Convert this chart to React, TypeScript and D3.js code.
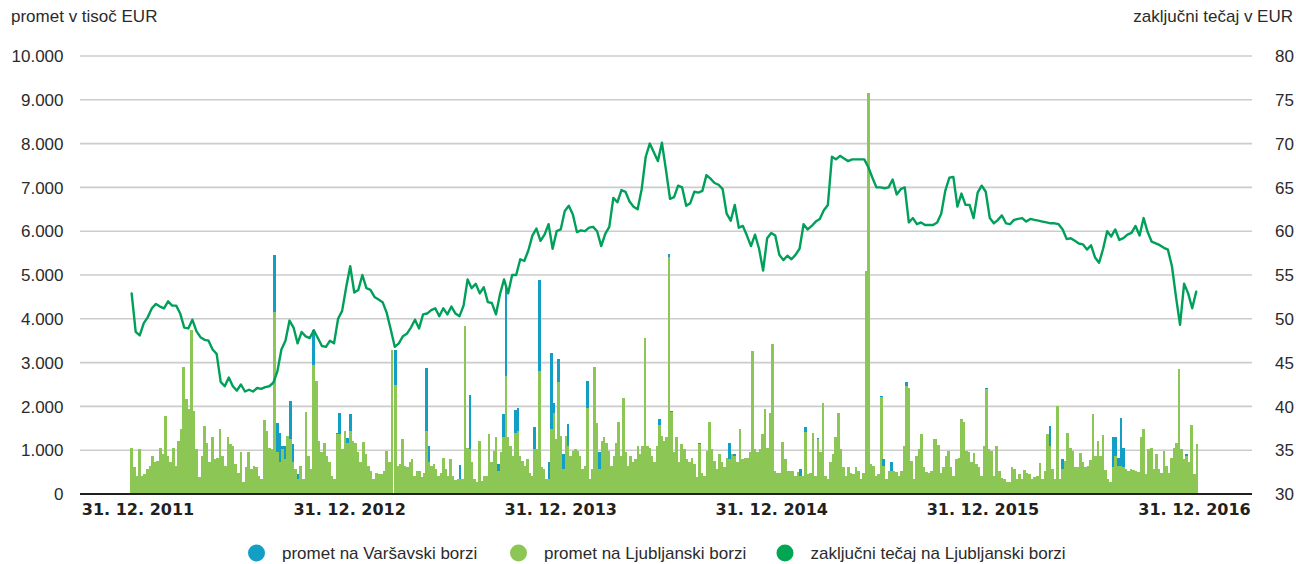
import React from 'react';
import * as d3 from 'd3';

// ---------- DATA ----------
const yearTicks = ['2011-12-31', '2012-12-31', '2013-12-31', '2014-12-31', '2015-12-31', '2016-12-31'];
const turnoverTicks = [0, 1000, 2000, 3000, 4000, 5000, 6000, 7000, 8000, 9000, 10000];
const priceTicks = [30, 35, 40, 45, 50, 55, 60, 65, 70, 75, 80];

const seriesNames = ['promet na Varšavski borzi', 'promet na Ljubljanski borzi', 'zaključni tečaj na Ljubljanski borzi'];

// weekly closing price (EUR) on the Ljubljana exchange
const priceStart = '2011-12-20';
const priceStepDays = 7;
const closePrice = [
  52.9, 48.5, 48.1, 49.5, 50.2, 51.2, 51.7, 51.4, 51.2, 52.0,
  51.5, 51.5, 50.6, 49.0, 48.9, 49.9, 48.6, 47.9, 47.6, 47.5,
  46.5, 46.0, 42.8, 42.3, 43.3, 42.3, 41.8, 42.5, 41.7, 41.9,
  41.7, 42.1, 42.0, 42.2, 42.3, 42.7, 44.0, 46.5, 47.5, 49.8,
  49.0, 47.2, 48.5, 48.0, 47.8, 48.7, 47.8, 46.9, 46.8, 47.5,
  47.2, 50.0, 50.9, 53.6, 56.0, 53.0, 53.3, 55.0, 53.5, 53.3,
  52.5, 52.2, 51.9, 50.7, 48.8, 46.8, 47.2, 48.0, 48.3, 49.0,
  49.9, 48.9, 50.5, 50.6, 51.0, 51.2, 50.3, 51.2, 50.5,
  51.4, 50.6, 50.3, 51.5, 54.5, 53.5, 54.0, 52.9, 53.6, 51.9,
  51.8, 50.5, 52.8, 54.5, 52.9, 55.0, 55.0, 56.8, 56.6, 57.8,
  59.5, 60.3, 58.9, 59.6, 60.8, 58.0, 60.0, 60.2, 62.3, 62.9,
  61.9, 59.9, 60.1, 60.0, 60.4, 60.5, 60.0, 58.3, 59.7, 60.5,
  63.8, 63.3, 64.7, 64.5, 63.4, 62.8, 62.5, 64.8, 68.5, 70.0,
  69.0, 68.0, 70.1, 67.0, 63.7, 63.9, 65.2, 65.0, 62.9, 63.2,
  64.5, 64.4, 64.6, 66.4, 66.0, 65.5, 65.3, 64.8, 62.0, 61.2,
  63.0, 60.4, 60.6, 59.5, 58.3, 59.6, 58.0, 55.5, 59.2,
  59.8, 59.5, 57.3, 56.7, 57.2, 56.8, 57.3, 58.0, 60.8, 60.2,
  60.6, 61.1, 61.4, 62.4, 63.0, 68.5, 68.2, 68.6, 68.3, 68.0,
  68.2, 68.2, 68.2, 68.2, 67.3, 66.1, 65.0, 65.0, 64.9, 65.0,
  65.9, 64.2, 64.8, 65.0, 61.0, 61.5, 60.8, 61.0, 60.7, 60.7,
  60.7, 61.0, 62.0, 64.6, 66.1, 66.2, 62.8, 64.3, 63.0, 63.0,
  61.5, 64.4, 65.2, 64.5, 61.5, 60.9, 61.3, 61.8, 60.9, 60.8,
  61.3, 61.4, 61.5, 61.1, 61.4, 61.3, 61.2, 61.1, 61.0, 60.9,
  60.9, 60.8, 60.2, 59.1, 59.2, 58.9, 58.6, 58.5, 57.9, 58.4,
  57.0, 56.4, 58.0, 60.0, 59.4, 60.2, 59.0, 59.2, 59.6, 59.8,
  60.6, 59.5, 61.5, 59.9, 58.8, 58.6, 58.4, 58.1, 57.9, 56.0,
  52.5, 49.3, 54.0, 52.9, 51.2, 53.1,
];

// turnover in thousand EUR: number = Ljubljana only, [Ljubljana, Warsaw]
type T = number | [number, number];
const turnoverPeriods: [string, string][] = [
  ['2011-12-20', '2013-03-14'],
  ['2013-03-20', '2014-06-28'],
  ['2014-07-02', '2015-10-08'],
  ['2015-10-11', '2017-01-04'],
];
const turnoverP1: T[] = [
  1060, 610, 420, 1020, 420, 450, 570, 640, 870, 720,
  760, 1060, 910, 1780, 870, 720, 1050, 640, 1210, 1480,
  2910, 2160, 1930, 3750, 1890, 1020, 380, 870, 1550, 1170,
  720, 1290, 800, 830, 1480, 870, 640, 1290, 1140, 1100,
  680, 490, 950, 270, 610, 950, 570, 640, 610, 420,
  340, 1700, 1440, 1060, 1020, [4160, 1290], [950, 680], [720, 680], [1020, 80], [800, 300],
  1330, [1250, 870], [720, 420], 570, [340, 110], 640, 340, 1880, 870, 570,
  [2950, 800], 2570, 1210, 950, 1170, 870, 720, 420, 340, [1360, 40],
  [1360, 490], 1020, 1440, [1170, 110], [1440, 380], 1210, 1170, 950, 720, 1190,
  910, 640, 530, 340, 490, 450, 450, 530, 980, 720,
  3290,
];
const turnoverP2: T[] = [
  [2500, 790], 640, 680, 1260, 640, 610, 720, 810, 420, 530,
  530, 380, 490, [1440, 1440], [720, 380], 640, 680, 570, 420, 490,
  830, 570, 420, 800, 420, 320, 340, [340, 320], 340, 3840,
  1060, [1020, 1240], 720, 340, 270, 1210, 300, 420, 420, 1360,
  720, 980, 1290, [530, 150], 950, [1290, 540], [2690, 2040], 1290, 1100, 870,
  [1400, 510], [1440, 530], 870, 760, 640, 800, 490, 420, [1020, 510], 1020,
  [2800, 2080], 610, 570, 340, [340, 380], [1480, 1750], [1860, 210], 1250, [2550, 540], 1330,
  [570, 340], 1330, [1100, 490], 870, 980, 1020, 980, 870, 570, 640,
  [1970, 600], 340, 570, 2890, 1630, [570, 380], 1210, 1290, 1170, 980,
  640, 870, 1170, 1640, 870, 2200, 950, 640, 870, 720,
  800, 1100, 910, 1100, 3570, 1100, 1060, 870, 720, 1100,
  [1570, 140], 1330, 1210,
];
const turnoverP3: T[] = [
  1290, [5410, 80], [1880, 10], 950, 1290, 720, 1140, 1020, 800, 720,
  830, 680, 380, [1140, 20], 490, 420, 980, 1650, 1020, 760,
  570, 910, 720, 610, 830, [800, 370], 910, [870, 40], 720, 1480,
  800, 830, 830, 950, 3270, 1020, 950, 1020, 1360, 1950,
  1060, 1860, 3420, 530, 490, 490, 1190, 800, 530, 530,
  530, 420, 510, [420, 150], 420, [1420, 110], 450, 490, 1400, 420,
  [1250, 20], 950, 2080, 420, 340, 720, 910, 1290, 1860, 1020,
  610, 420, 610, 490, 450, 610, 530, 340, 490, 5090,
  9160, 680, 640, 420, 450, [2210, 20], [640, 150], 340, 530, [530, 200],
  530, 510, 420, 530, 1100, [2460, 90], 2420, 760, 340, 870,
  1020, 1380, 610, 500, 490, 530, 1260,
];
const turnoverP4: T[] = [
  1260, 1110, 490, 610, 870, 980, 610, 420, 800, 830,
  1720, 1640, 980, 950, 720, 930, 680, 610, 420, 1100,
  [2390, 30], 1020, 980, 420, 1100, 530, 360, 340, 270, 270,
  610, 570, 340, 450, 340, 550, 490, 450, 340, 380,
  420, 700, 340, 530, 1360, [1100, 450], 570, 340, 2020, 340,
  [570, 240], 760, 1400, 1040, 980, 610, 610, 930, 720, 610,
  640, 780, 1820, 870, 1200, 860, 1350, 550, 340, 270,
  [610, 680], [870, 420], [640, 190], [640, 1100], [610, 430], 570, 530, 570, 550, 530,
  510, 1310, 1480, 450, 1020, 1040, 570, 910, 570, 490,
  980, 640, 490, 830, 1060, 1170, 2860, 1020, 800, [870, 40],
  720, 1580, 450, 1140,
];
const turnoverSegments = [turnoverP1, turnoverP2, turnoverP3, turnoverP4];

// ---------- CHART ----------
const W = 1296;
const H = 564;
const C = {
  blue: '#139fc5',
  green: '#8cc654',
  line: '#00a05a',
  lineLegend: '#00a651',
  grid: '#cccccc',
  text: '#2b2b2b',
  axis: '#231f20',
};
const FONT = '"Liberation Sans", Arial, Helvetica, sans-serif';

const parse = d3.utcParse('%Y-%m-%d');
const DAY = 86400000;

export default function App() {
  const x = d3.scaleUtc()
    .domain([parse(yearTicks[0])!, parse(yearTicks[yearTicks.length - 1])!])
    .range([138, 1194.5]);
  const yL = d3.scaleLinear().domain([0, 10000]).range([494, 56]);
  const yR = d3.scaleLinear().domain([30, 80]).range([494, 56]);
  const gridX0 = 80;
  const gridX1 = 1252;

  const loc = d3.formatLocale({ decimal: ',', thousands: '.', grouping: [3], currency: ['', ' €'] });
  const fmtL = loc.format(',.0f');
  const fmtX = d3.utcFormat('%d. %m. %Y');

  const bars: { x: number; w: number; lj: number; wa: number }[] = [];
  turnoverSegments.forEach((seg, s) => {
    const t0 = parse(turnoverPeriods[s][0])!.getTime();
    const t1 = parse(turnoverPeriods[s][1])!.getTime();
    const n = seg.length;
    const stepPx = (x(new Date(t1)) - x(new Date(t0))) / (n - 1);
    seg.forEach((v, i) => {
      const t = new Date(t0 + (i * (t1 - t0)) / (n - 1));
      const lj = Array.isArray(v) ? v[0] : v;
      const wa = Array.isArray(v) ? v[1] : 0;
      bars.push({ x: x(t), w: stepPx * 1.02, lj, wa });
    });
  });

  const p0 = parse(priceStart)!.getTime();
  const linePts: [number, number][] = closePrice.map((v, i) => [x(new Date(p0 + i * priceStepDays * DAY)), yR(v)]);
  const linePath = d3.line().curve(d3.curveLinear)(linePts) || '';

  const legend = [
    { cx: 256.5, color: C.blue, label: seriesNames[0] },
    { cx: 518.5, color: C.green, label: seriesNames[1] },
    { cx: 785, color: C.lineLegend, label: seriesNames[2] },
  ];

  return (
    <svg width={W} height={H} style={{ position: 'absolute', left: 0, top: 0, background: '#fff' }} fontFamily={FONT}>
      <rect x={0} y={0} width={W} height={H} fill="#fff" />
      {/* axis titles */}
      <text x={11} y={22} fontSize={17} fill={C.text}>promet v tisoč EUR</text>
      <text x={1293} y={22} fontSize={17} fill={C.text} textAnchor="end">zaključni tečaj v EUR</text>

      {/* grid */}
      {turnoverTicks.map((t) => (
        <line key={'g' + t} x1={gridX0} x2={gridX1} y1={yL(t)} y2={yL(t)} stroke={C.grid} strokeWidth={1.6} />
      ))}
      {turnoverTicks.map((t) => (
        <text key={'l' + t} x={63.5} y={yL(t)} dy="0.36em" fontSize={17} fill={C.text} textAnchor="end">{fmtL(t)}</text>
      ))}
      {priceTicks.map((t) => (
        <text key={'r' + t} x={1275} y={yR(t)} dy="0.36em" fontSize={17} fill={C.text}>{t}</text>
      ))}

      {/* bars */}
      <g shapeRendering="crispEdges">
        {bars.map((b, i) => (
          <g key={'b' + i}>
            <rect x={b.x - b.w / 2} y={yL(b.lj)} width={b.w} height={yL(0) - yL(b.lj)} fill={C.green} />
            {b.wa > 0 && (
              <rect x={b.x - b.w / 2} y={yL(b.lj + b.wa)} width={b.w} height={yL(b.lj) - yL(b.lj + b.wa)} fill={C.blue} />
            )}
          </g>
        ))}
      </g>

      {/* baseline */}
      <line x1={gridX0} x2={gridX1} y1={yL(0)} y2={yL(0)} stroke={C.axis} strokeWidth={2} />

      {/* price line */}
      <path d={linePath} fill="none" stroke={C.line} strokeWidth={2.4} strokeLinejoin="round" strokeLinecap="round" />

      {/* x axis labels */}
      {yearTicks.map((d) => (
        <text key={'x' + d} x={x(parse(d)!)} y={515} fontSize={16} fontWeight="bold" fontFamily='"DejaVu Sans", sans-serif' fill={C.axis} textAnchor="middle">
          {fmtX(parse(d)!)}
        </text>
      ))}

      {/* legend */}
      {legend.map((l) => (
        <g key={l.label}>
          <circle cx={l.cx} cy={553} r={8.5} fill={l.color} />
          <text x={l.cx + 25.5} y={559} fontSize={17} fill={C.text}>{l.label}</text>
        </g>
      ))}
    </svg>
  );
}
